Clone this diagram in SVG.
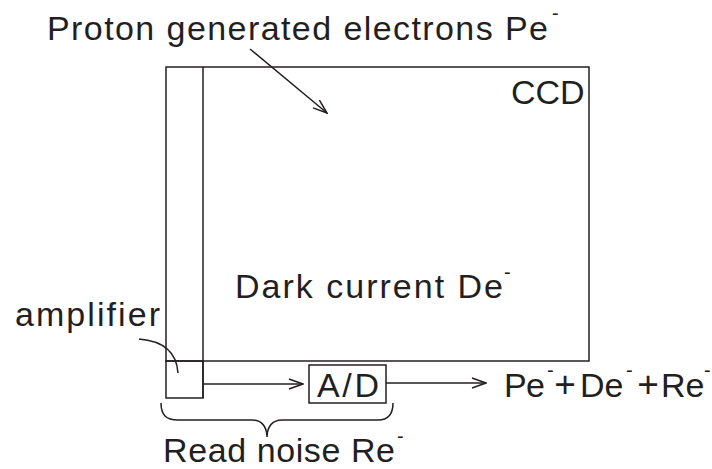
<svg xmlns="http://www.w3.org/2000/svg" width="712" height="469" viewBox="0 0 712 469">
<style>
.t{font-family:"Liberation Sans",Arial,sans-serif;font-size:34px;fill:#231f20}
.s{font-family:"Liberation Sans",Arial,sans-serif;font-size:20px;fill:#231f20}
.p{font-family:"Liberation Sans",Arial,sans-serif;font-size:37px;fill:#231f20;text-anchor:middle}
.ln{fill:none;stroke:#231f20;stroke-width:1.5}
</style>
<defs>
<marker id="ah" markerWidth="16" markerHeight="12" refX="15" refY="6" orient="auto" markerUnits="userSpaceOnUse">
<path d="M1,1 L15,6 L1,11" fill="none" stroke="#231f20" stroke-width="1.5"/>
</marker>
</defs>
<rect width="712" height="469" fill="#fff"/>
<g id="ccd">
<rect class="ln" x="166" y="67" width="423" height="294"/>
<line class="ln" x1="203" y1="67" x2="203" y2="398"/>
<text class="t" x="511" y="104">CCD</text>
</g>
<g id="amplifier">
<rect class="ln" x="166" y="361" width="37" height="37"/>
<text class="t" x="15" y="326" textLength="145">amplifier</text>
</g>
<g id="ad">
<rect class="ln" x="309" y="365" width="77" height="38"/>
<text class="t" x="317" y="397" textLength="62">A/D</text>
</g>
<g id="proton-label">
<text class="t" x="47" y="40" textLength="501">Proton generated electrons Pe</text>
<text class="s" x="552" y="20">-</text>
</g>
<g id="dark-label">
<text class="t" x="235" y="298" textLength="268">Dark current De</text>
<text class="s" x="504" y="279">-</text>
</g>
<g id="output-label">
<text class="t" x="504" y="397" textLength="41">Pe</text>
<text class="s" x="547" y="377">-</text>
<text class="p" x="565" y="397">+</text>
<text class="t" x="580" y="397">De</text>
<text class="s" x="626" y="377">-</text>
<text class="p" x="648" y="397">+</text>
<text class="t" x="661" y="397">Re</text>
<text class="s" x="704" y="377">-</text>
</g>
<g id="readnoise-label">
<text class="t" x="163" y="462" textLength="232">Read noise Re</text>
<text class="s" x="397" y="443">-</text>
</g>
<g id="connectors">
<line class="ln" x1="250" y1="49" x2="327" y2="113" marker-end="url(#ah)"/>
<path class="ln" d="M139,339 Q176,342 178,373"/>
<line class="ln" x1="203" y1="384" x2="303" y2="384" marker-end="url(#ah)"/>
<line class="ln" x1="386" y1="383" x2="486" y2="383" marker-end="url(#ah)"/>
<path class="ln" d="M161,403 C161,415 166,420 178,420 L252,420 C261,420 267,426 267,437 C267,426 273,420 282,420 L378,420 C389,420 393,413 393,403"/>
</g>
</svg>
